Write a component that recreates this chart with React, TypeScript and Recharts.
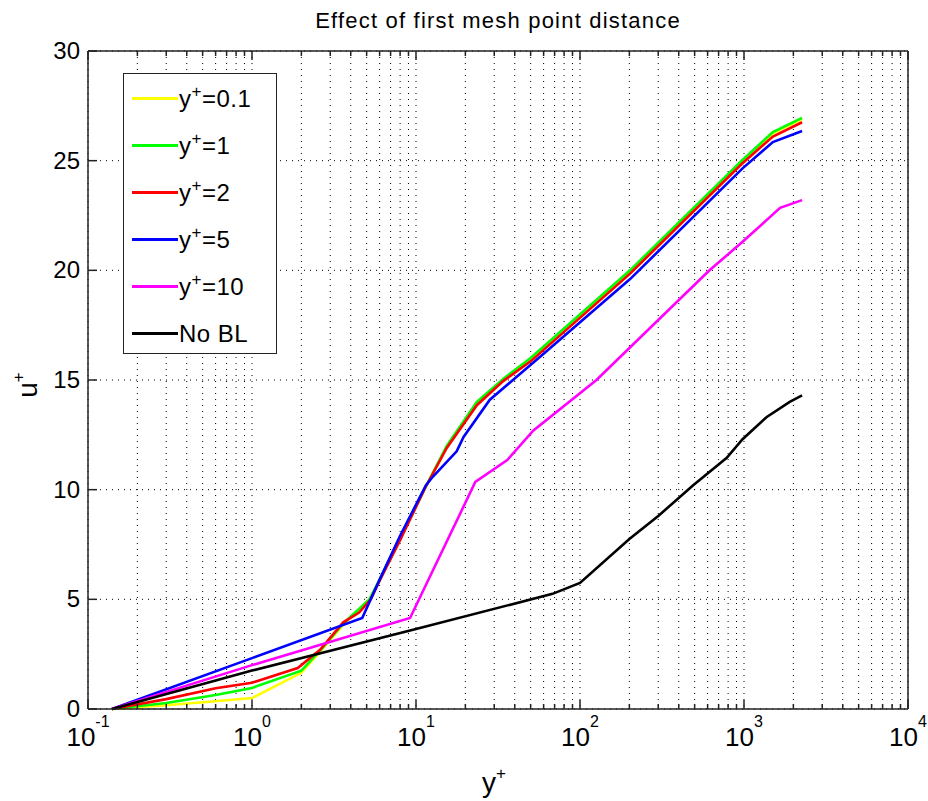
import { CartesianGrid, Legend, Line, LineChart, XAxis, YAxis } from "recharts";

type Pt = [number, number];

// u+ vs y+, one array per mesh
const yp01: Pt[] = [
  [0.14, 0], [0.3, 0.17], [0.6, 0.35], [1, 0.5], [2, 1.65], [2.7, 2.75], [3.6, 3.85], [5.2, 5.0],
  [6, 5.85], [8, 7.75], [11.4, 10.1], [15.4, 11.95], [23.5, 13.95], [34, 15.0], [50, 15.95],
  [202, 19.95], [968, 24.95], [1500, 26.25], [2260, 26.9],
];
const yp1: Pt[] = [
  [0.14, 0], [0.3, 0.27], [0.6, 0.64], [1, 0.96], [2, 1.75], [2.7, 2.8], [3.6, 3.9], [5.2, 5.0],
  [6, 5.9], [8, 7.8], [11.4, 10.1], [15.4, 12.0], [23.5, 14.0], [34, 15.05], [50, 16.0],
  [202, 20.0], [968, 25.0], [1500, 26.3], [2260, 26.95],
];
const yp2: Pt[] = [
  [0.14, 0], [0.3, 0.45], [0.6, 0.95], [1, 1.2], [1.9, 1.87], [2.6, 2.7], [3.6, 3.95], [4.5, 4.4],
  [5.3, 5.0], [6, 5.85], [8, 7.7], [11.4, 10.1], [15.4, 11.9], [23.5, 13.85], [34, 14.95],
  [50, 15.85], [202, 19.85], [968, 24.85], [1500, 26.1], [2260, 26.75],
];
const yp5: Pt[] = [
  [0.14, 0], [1, 2.32], [4.7, 4.15], [6, 5.9], [8, 7.9], [11.5, 10.2], [12.7, 10.6], [17.7, 11.75],
  [19.5, 12.4], [28.2, 14.1], [39, 15.0], [60, 16.2], [202, 19.6], [980, 24.65],
  [1500, 25.85], [2260, 26.35],
];
const yp10: Pt[] = [
  [0.14, 0], [1, 2.0], [9.2, 4.15], [23, 10.35], [36, 11.35], [52, 12.7], [126, 15.0],
  [616, 20.0], [980, 21.3], [1660, 22.85], [2260, 23.2],
];
const noBL: Pt[] = [
  [0.14, 0], [1, 1.75], [10, 3.65], [68, 5.25], [100, 5.75], [200, 7.75], [300, 8.8],
  [490, 10.2], [785, 11.45], [980, 12.3], [1370, 13.3], [1900, 14.0], [2260, 14.3],
];

const series = [
  { label: "=0.1", sup: true, color: "#ffff00", pts: yp01 },
  { label: "=1", sup: true, color: "#00ff00", pts: yp1 },
  { label: "=2", sup: true, color: "#ff0000", pts: yp2 },
  { label: "=5", sup: true, color: "#0000ff", pts: yp5 },
  { label: "=10", sup: true, color: "#ff00ff", pts: yp10 },
  { label: "No BL", sup: false, color: "#000000", pts: noBL },
];

const decades = [0.1, 1, 10, 100, 1000, 10000];
const minors = [2, 3, 4, 5, 6, 7, 8, 9];
const uTicks = [0, 5, 10, 15, 20, 25, 30];

const xTicks = decades.flatMap((d, i) =>
  i < decades.length - 1 ? [d, ...minors.map((m) => +(d * m).toPrecision(3))] : [d]
);

const FONT = "'Liberation Sans', Arial, Helvetica, sans-serif";
const AX = "#222";

const isMajor = (v: number) => Math.abs(Math.log10(v) - Math.round(Math.log10(v))) < 1e-6;

function BottomTick({ x, y, payload }: any) {
  const v = payload.value;
  const major = isMajor(v);
  return (
    <g>
      <line x1={x} x2={x} y1={y} y2={y - (major ? 9 : 5)} stroke={AX} strokeWidth={1.5} />
      {major && (
        <text x={x} y={y + 37} textAnchor="middle" fontSize={26} fontFamily={FONT} fill="#000">
          10
          <tspan dy={-19} fontSize={16}>{Math.round(Math.log10(v))}</tspan>
        </text>
      )}
    </g>
  );
}

function TopTick({ x, y, payload }: any) {
  const major = isMajor(payload.value);
  return <line x1={x} x2={x} y1={y} y2={y + (major ? 9 : 5)} stroke={AX} strokeWidth={1.5} />;
}

function LeftTick({ x, y, payload }: any) {
  return (
    <g>
      <line x1={x} x2={x + 9} y1={y} y2={y} stroke={AX} strokeWidth={1.5} />
      <text x={x - 8} y={y + 8} textAnchor="end" fontSize={24} fontFamily={FONT} fill="#000">
        {payload.value}
      </text>
    </g>
  );
}

function RightTick({ x, y }: any) {
  return <line x1={x} x2={x - 9} y1={y} y2={y} stroke={AX} strokeWidth={1.5} />;
}

function XTitle({ viewBox }: any) {
  const cx = viewBox.x + viewBox.width / 2;
  return (
    <text x={cx - 4} y={792} textAnchor="middle" fontSize={28} fontFamily={FONT} fill="#000">
      y<tspan dy={-13} fontSize={17}>+</tspan>
    </text>
  );
}

function PlotTitle({ viewBox }: any) {
  const cx = viewBox.x + viewBox.width / 2;
  return (
    <text x={cx} y={28} textAnchor="middle" fontSize={22} letterSpacing={1.2} fontFamily={FONT} fill="#000">
      Effect of first mesh point distance
    </text>
  );
}

function YTitle() {
  return (
    <text transform="translate(37,385) rotate(-90)" textAnchor="middle" fontSize={28} fontFamily={FONT} fill="#000">
      u<tspan dy={-13} fontSize={17}>+</tspan>
    </text>
  );
}

function LegendBox() {
  return (
    <div
      style={{
        width: 154,
        height: 281,
        boxSizing: "border-box",
        border: `1.5px solid ${AX}`,
        background: "#fff",
        paddingTop: 1,
        fontFamily: FONT,
        fontSize: 24,
        color: "#000",
      }}
    >
      {series.map((s) => (
        <div key={s.label} style={{ display: "flex", alignItems: "center", height: 47 }}>
          <span style={{ display: "inline-block", width: 46, height: 3, marginLeft: 8, background: s.color }} />
          <span style={{ marginLeft: 1, letterSpacing: 0.5, lineHeight: "24px" }}>
            {s.sup ? (
              <>
                y<sup style={{ fontSize: 17, verticalAlign: 10, lineHeight: 0 }}>+</sup>
                {s.label}
              </>
            ) : (
              s.label
            )}
          </span>
        </div>
      ))}
    </div>
  );
}

export default function App() {
  return (
    <div style={{ position: "absolute", left: 0, top: 0, background: "#fff" }}>
      <LineChart width={928} height={801} margin={{ top: 31, right: 0, bottom: 32, left: 28 }}>
        <CartesianGrid stroke="#000" strokeDasharray="1 5" strokeWidth={1} />
        <XAxis
          dataKey="x"
          type="number"
          scale="log"
          domain={[0.1, 10000]}
          allowDataOverflow
          ticks={xTicks}
          interval={0}
          height={60}
          tickSize={0}
          tickMargin={0}
          tick={<BottomTick />}
          axisLine={{ stroke: AX, strokeWidth: 1.5 }}
          label={<XTitle />}
        />
        <XAxis
          xAxisId="top"
          orientation="top"
          dataKey="x"
          type="number"
          scale="log"
          domain={[0.1, 10000]}
          allowDataOverflow
          ticks={xTicks}
          interval={0}
          height={20}
          tickSize={0}
          tickMargin={0}
          tick={<TopTick />}
          axisLine={{ stroke: AX, strokeWidth: 1.5 }}
          label={<PlotTitle />}
        />
        <YAxis
          type="number"
          domain={[0, 30]}
          ticks={uTicks}
          interval={0}
          width={60}
          tickSize={0}
          tickMargin={0}
          tick={<LeftTick />}
          axisLine={{ stroke: AX, strokeWidth: 1.5 }}
          label={<YTitle />}
        />
        <YAxis
          yAxisId="right"
          orientation="right"
          type="number"
          domain={[0, 30]}
          ticks={uTicks}
          interval={0}
          width={20}
          tickSize={0}
          tickMargin={0}
          tick={<RightTick />}
          axisLine={{ stroke: AX, strokeWidth: 1.5 }}
        />
        {series.map((s) => (
          <Line
            key={s.label}
            data={s.pts.map(([x, u]) => ({ x, u }))}
            dataKey="u"
            name={s.label}
            stroke={s.color}
            strokeWidth={2.6}
            dot={false}
            activeDot={false}
            isAnimationActive={false}
          />
        ))}
        <Legend
          layout="vertical"
          align="center"
          verticalAlign="middle"
          content={<LegendBox />}
          wrapperStyle={{ left: 123, top: 73, width: 154, height: 281 }}
        />
      </LineChart>
    </div>
  );
}
